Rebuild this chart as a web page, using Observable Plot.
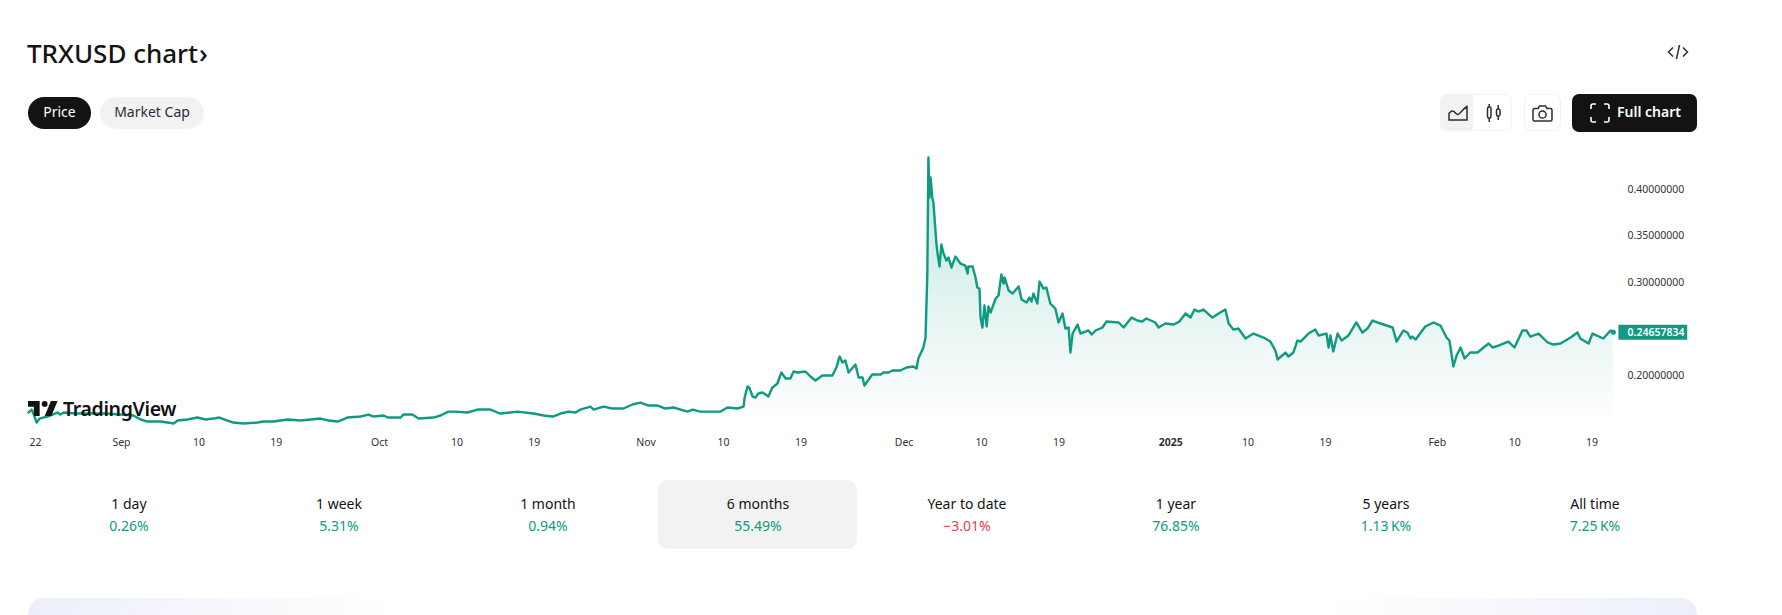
<!DOCTYPE html>
<html>
<head>
<meta charset="utf-8">
<script src="https://cdn.jsdelivr.net/npm/d3@7"></script>
<script src="https://cdn.jsdelivr.net/npm/@observablehq/plot@0.6"></script>
<style>
  html, body { margin: 0; padding: 0; background: #fff; overflow: hidden; }
  body { font-family: "Noto Sans", sans-serif; color: #131722; }
  #page { position: relative; width: 1782px; height: 615px; overflow: hidden; }
  #page > * { position: absolute; box-sizing: border-box; }
  #chart { left: 0; top: 140px; }
  #title { left: 27px; top: 35px; font-size: 26px; line-height: 36px; font-weight: 500; white-space: nowrap; color: #131313; }
  .pill { top: 97px; height: 32px; border-radius: 16px; font-size: 14px; line-height: 30px; text-align: center; }
  .box { background: #fff; border: 1px solid #f2f2f2; border-radius: 7px; box-shadow: 0 0 2px rgba(0,0,0,.03); }
  .period { width: 200px; text-align: center; top: 493px; }
  .period .n { font-size: 14px; line-height: 22px; color: #131313; }
  .period .v { font-size: 14px; line-height: 22px; }
  #panel { left: 28px; top: 598px; width: 1669px; height: 40px; border-radius: 16px;
    background: linear-gradient(to right, #eceffb 0, #f9f9fd 14%, #ffffff 22%, #ffffff 78%, #f9f9fd 86%, #eceffb 100%); }
  #logo { left: 28px; top: 398px; height: 20px; display: flex; align-items: center; font-size: 19.5px; font-weight: 600; letter-spacing: -0.35px; color: #131313; }
</style>
</head>
<body>
<div id="page"></div>
<script>
const startLabel = "2024-08-22";
const endLabel = "2025-02-22";
const tagEndLabel = "2025-03-02";

const sampleHours = [
  7,16,21,30,38,60,88,96,105,138,
  180,221,263,299,319,338,374,394,411,422,
  449,477,500,522,538,561,577,605,644,661,
  689,728,764,792,819,842,867,894,931,953,
  967,995,1006,1042,1050,1075,1092,1134,1153,1175,
  1195,1228,1256,1292,1312,1320,1367,1412,1440,1465,
  1487,1509,1529,1542,1570,1579,1606,1631,1662,1687,
  1709,1732,1757,1779,1801,1840,1854,1876,1932,1951,
  1979,1996,1999,2007,2012,2021,2029,2037,2049,2065,
  2076,2090,2101,2113,2126,2135,2146,2168,2182,2196,
  2215,2243,2254,2263,2271,2279,2288,2307,2316,2327,
  2332,2354,2377,2385,2399,2410,2432,2449,2468,2477,
  2482,2496,2502,2507,2510,2513,2516,2521,2524,2532,
  2535,2541,2546,2552,2560,2566,2574,2585,2599,2613,
  2619,2621,2633,2641,2646,2652,2655,2660,2666,2672,
  2677,2683,2697,2705,2713,2719,2722,2733,2744,2761,
  2769,2783,2791,2797,2802,2813,2819,2830,2838,2849,
  2863,2872,2883,2891,2900,2905,2911,2925,2933,2955,
  2964,2975,2994,3005,3039,3053,3075,3091,3105,3116,
  3141,3150,3169,3192,3208,3225,3239,3250,3261,3275,
  3300,3317,3336,3345,3358,3372,3392,3414,3442,3461,
  3475,3481,3503,3511,3525,3536,3545,3567,3586,3595,
  3617,3623,3628,3636,3648,3659,3678,3700,3717,3731,
  3745,3759,3801,3812,3831,3842,3851,3856,3865,3892,
  3915,3934,3951,3959,3970,3979,3990,4001,4017,4037,
  4054,4068,4079,4095,4123,4140,4162,4173,4184,4207,
  4232,4248,4268,4296,4315,4323,4346,4357,4387,4407,
  4415
];

const prices = [
  .1602,.1634,.1591,.1494,.1537,.1559,.1602,.1580,.1602,.1591,
  .1591,.1591,.1580,.1570,.1527,.1505,.1505,.1494,.1484,.1516,
  .1527,.1548,.1527,.1537,.1548,.1516,.1494,.1484,.1494,.1505,
  .1505,.1527,.1516,.1527,.1537,.1516,.1505,.1548,.1559,.1580,
  .1559,.1570,.1548,.1548,.1580,.1580,.1537,.1548,.1570,.1612,
  .1612,.1602,.1634,.1634,.1602,.1591,.1612,.1591,.1570,.1559,
  .1591,.1612,.1602,.1634,.1666,.1634,.1666,.1645,.1645,.1688,
  .1709,.1677,.1677,.1645,.1656,.1612,.1634,.1612,.1612,.1656,
  .1645,.1666,.1763,.1881,.1870,.1774,.1763,.1806,.1817,.1774,
  .1870,.1914,.2032,.1967,.1967,.2043,.2032,.2043,.1989,.1946,
  .2000,.2000,.2086,.2204,.2140,.2161,.2032,.2118,.1978,.1978,
  .1892,.2010,.2010,.2032,.2032,.2054,.2054,.2086,.2097,.2075,
  .2183,.2301,.2408,.3096,.4344,.3914,.4129,.3903,.3860,.3430,
  .3322,.3172,.3408,.3311,.3236,.3268,.3161,.3279,.3204,.3182,
  .3096,.3172,.3172,.3053,.2946,.2935,.2623,.2516,.2752,.2527,
  .2742,.2677,.2828,.2860,.3086,.2989,.3053,.2914,.2881,.2957,
  .2817,.2785,.2838,.2795,.2881,.2774,.3010,.2935,.2946,.2774,
  .2720,.2570,.2666,.2505,.2516,.2247,.2451,.2548,.2451,.2484,
  .2441,.2484,.2516,.2580,.2570,.2516,.2623,.2591,.2580,.2613,
  .2570,.2516,.2559,.2548,.2580,.2666,.2623,.2709,.2688,.2709,
  .2623,.2666,.2709,.2559,.2494,.2505,.2398,.2451,.2408,.2365,
  .2268,.2172,.2247,.2204,.2247,.2376,.2365,.2451,.2494,.2430,
  .2451,.2301,.2430,.2258,.2451,.2376,.2430,.2570,.2462,.2505,
  .2591,.2570,.2516,.2365,.2484,.2462,.2398,.2419,.2387,.2527,
  .2570,.2537,.2408,.2376,.2097,.2215,.2301,.2183,.2247,.2247,
  .2301,.2344,.2301,.2322,.2365,.2301,.2484,.2484,.2419,.2451,
  .2355,.2333,.2344,.2408,.2462,.2398,.2344,.2451,.2398,.2484,
  .2466
];

const lastPrice = 0.24657834;
const priceTicks = [0.2, 0.3, 0.35, 0.4];
const areaFloor = 0.1473;

const tickDates = ["2024-08-22","2024-09-01","2024-09-10","2024-09-19","2024-10-01","2024-10-10","2024-10-19",
  "2024-11-01","2024-11-10","2024-11-19","2024-12-01","2024-12-10","2024-12-19","2025-01-10","2025-01-19",
  "2025-02-01","2025-02-10","2025-02-19"];
const tickLabels = ["22","Sep","10","19","Oct","10","19","Nov","10","19","Dec","10","19","10","19","Feb","10","19"];
const yearTick = "2025-01-01";
const yearLabel = "2025";

const periodNames = ["1 day","1 week","1 month","6 months","Year to date","1 year","5 years","All time"];
const periodValues = ["0.26%","5.31%","0.94%","55.49%","\u22123.01%","76.85%","1.13\u2009K%","7.25\u2009K%"];
const periodCenters = [129,339,548,758,967,1176,1386,1595];

const GREEN = "#0f9a82", RED = "#e5404f", INK = "#131313", TICK = "#333333";

// sample clock of the read-off: one sample step is just over an hour
const origin = Date.UTC(2024,7,22) - 1.1198*864e5;
const stepMs = 3612492;
const series = sampleHours.map((h,i) => ({date: new Date(origin + h*stepMs), price: prices[i]}));
series[series.length-1].price = lastPrice;
const last = series[series.length-1];
const toDate = s => new Date(s + "T00:00:00Z");

const labelByTime = new Map(tickDates.map((d,i) => [toDate(d).getTime(), tickLabels[i]]));

const defs = () => {
  const s = d3.create("svg:defs");
  const g = s.append("linearGradient").attr("id","fade").attr("gradientUnits","userSpaceOnUse")
    .attr("x1",0).attr("x2",0).attr("y1",17).attr("y2",284);
  g.append("stop").attr("offset",0).attr("stop-color",GREEN).attr("stop-opacity",0.26);
  g.append("stop").attr("offset",1).attr("stop-color",GREEN).attr("stop-opacity",0);
  return s.node();
};

const chart = Plot.plot({
  width: 1782, height: 320,
  marginLeft: 0, marginRight: 157, marginTop: 0, marginBottom: 26,
  style: {fontFamily: "'Noto Sans', sans-serif", fontSize: "10.5px", background: "transparent", overflow: "visible"},
  x: {type: "utc", domain: [toDate(startLabel), toDate(endLabel)], range: [35, 1617.4]},
  y: {domain: [0.2, 0.4], range: [235, 49]},
  marks: [
    defs,
    Plot.areaY(series, {x: "date", y1: () => areaFloor, y2: "price", fill: "url(#fade)"}),
    Plot.line(series, {x: "date", y: "price", stroke: GREEN, strokeWidth: 2.4, strokeLinejoin: "round"}),
    Plot.dot([last], {x: "date", y: "price", r: 2.5, fill: GREEN}),
    Plot.axisX(tickDates.map(toDate), {anchor: "bottom", tickSize: 0, tickPadding: 4, label: null, color: TICK,
      tickFormat: d => labelByTime.get(+d)}),
    Plot.axisX([toDate(yearTick)], {anchor: "bottom", tickSize: 0, tickPadding: 4, label: null, color: TICK,
      fontWeight: 700, tickFormat: () => yearLabel}),
    Plot.axisY(priceTicks, {anchor: "right", tickSize: 0, tickPadding: 2, label: null, color: TICK,
      tickFormat: d3.format(".8f")}),
    Plot.ruleY([lastPrice], {x1: toDate(endLabel), x2: toDate(tagEndLabel), strokeWidth: 15, stroke: GREEN, dx: 1}),
    Plot.text([lastPrice], {y: d => d, text: d => d3.format(".8f")(d), frameAnchor: "right", textAnchor: "start", dx: 2,
      fill: "#fff", fontWeight: 600})
  ]
});
chart.id = "chart";

const page = document.getElementById("page");
function add(html){ const t = document.createElement("template"); t.innerHTML = html.trim(); const n = t.content.firstChild; page.appendChild(n); return n; }

add('<div id="title">TRXUSD chart<span style="font-size:27px;margin-left:1px">\u203A</span></div>');
add('<div class="pill" style="left:28px;width:63px;background:#131313;color:#fff">Price</div>');
add('<div class="pill" style="left:100px;width:104px;background:#f2f2f2;color:#2a2e39">Market Cap</div>');

// embed icon
add('<svg style="left:1667px;top:44px" width="22" height="16" viewBox="0 0 22 16" fill="none" stroke="#2a2e39" stroke-width="1.5"><path d="M6 3.5 1.5 8 6 12.5M16 3.5 20.5 8 16 12.5M12.5 1 9.5 15"/></svg>');
// chart-type selector
add('<div class="box" style="left:1440px;top:94px;width:72px;height:37px"></div>');
add('<div style="left:1441px;top:95px;width:32px;height:35px;background:#f2f2f2;border-radius:6px 0 0 6px"></div>');
add('<svg style="left:1448px;top:105px" width="20" height="16" viewBox="0 0 20 16" fill="none" stroke="#2a2e39" stroke-width="1.5"><path d="M1 15V8.5C3 5.5 5 5 7 7.5s3 2.5 5 .5 4-5 7-6.5V15Z"/></svg>');
add('<svg style="left:1486px;top:103px" width="16" height="20" viewBox="0 0 16 20" fill="none" stroke="#2a2e39" stroke-width="1.5"><rect x="1.5" y="4" width="3.5" height="11" rx="1.5"/><path d="M3.2 1v3M3.2 15v4"/><rect x="10.5" y="6" width="3.5" height="7" rx="1.5"/><path d="M12.2 2v4M12.2 13v4"/></svg>');
add('<div class="box" style="left:1524px;top:94px;width:37px;height:37px"></div>');
add('<svg style="left:1532px;top:105px" width="21" height="17" viewBox="0 0 21 17" fill="none" stroke="#2a2e39" stroke-width="1.5"><path d="M2.5 3.5H6L7.5 1h6L15 3.5h3.5a1.5 1.5 0 0 1 1.5 1.5v9.5a1.5 1.5 0 0 1-1.5 1.5h-16A1.5 1.5 0 0 1 1 14.5V5a1.5 1.5 0 0 1 1.5-1.5Z"/><circle cx="10.5" cy="9.5" r="3.6"/></svg>');
// full chart button
add('<div style="left:1572px;top:94px;width:125px;height:38px;background:#131313;border-radius:7px"></div>');
add('<svg style="left:1590px;top:103px" width="20" height="20" viewBox="0 0 20 20" fill="none" stroke="#fff" stroke-width="1.6"><path d="M1 6V3a2 2 0 0 1 2-2h3M14 1h3a2 2 0 0 1 2 2v3M19 14v3a2 2 0 0 1-2 2h-3M6 19H3a2 2 0 0 1-2-2v-3"/></svg>');
add('<div style="left:1617px;top:102px;font-size:14px;line-height:20px;font-weight:600;color:#fff;white-space:nowrap">Full chart</div>');

page.appendChild(chart);

// TradingView mark over the chart
add('<div id="logo"><svg width="30" height="15" viewBox="0 0 36 18" style="margin-right:5px" fill="#131313"><path d="M14 18H7V7H0V0h14v18ZM28 18h-8l7.5-18h8L28 18Z"/><circle cx="20" cy="3.5" r="3.5"/></svg>TradingView</div>');

// period row
add('<div style="left:658px;top:480px;width:199px;height:69px;background:#f2f2f2;border-radius:10px"></div>');
periodNames.forEach((name,i) => {
  const c = periodValues[i].startsWith("\u2212") ? RED : GREEN;
  add(`<div class="period" style="left:${periodCenters[i]-100}px"><div class="n">${name}</div><div class="v" style="color:${c}">${periodValues[i]}</div></div>`);
});
add('<div id="panel"></div>');
</script>
</body>
</html>
